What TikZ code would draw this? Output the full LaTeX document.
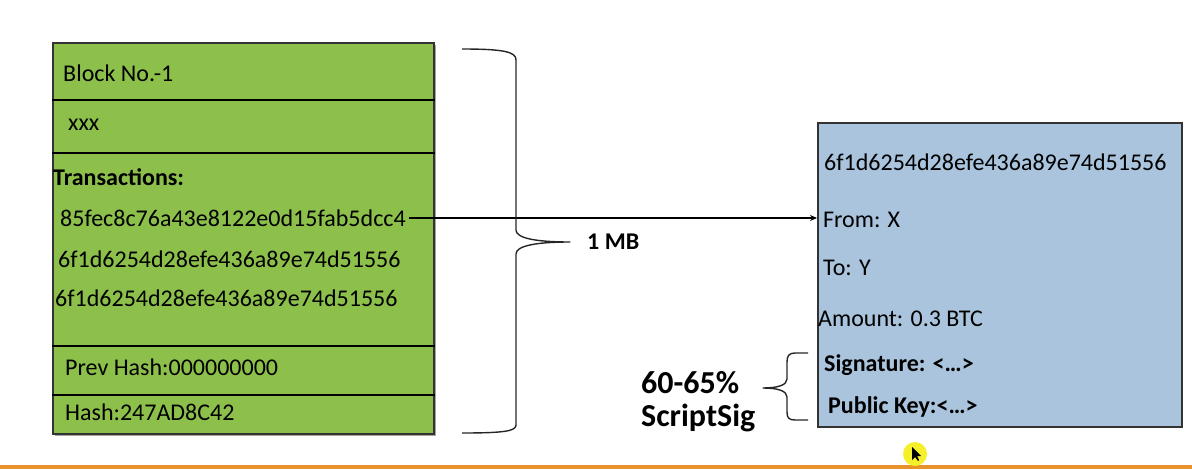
\documentclass[tikz,border=0pt]{standalone}
\usepackage{fontspec}
\setmainfont{Carlito}
\usetikzlibrary{arrows.meta}
\definecolor{blockgreen}{HTML}{8DC04B}
\definecolor{txblue}{HTML}{A9C4DC}
\definecolor{barorange}{HTML}{E8922B}
\definecolor{cursoryellow}{HTML}{F5F02A}
\tikzset{
  txt/.style={anchor=west, inner sep=0pt, font=\fontsize{24}{28}\selectfont},
  btxt/.style={txt, font=\fontsize{24}{28}\selectfont\bfseries},
  bigtxt/.style={anchor=west, inner sep=0pt, font=\fontsize{32}{36}\selectfont\bfseries},
  divider/.style={line width=2pt, black},
  boxline/.style={draw=black!80, line width=1.5pt},
  brace/.style={line width=1.4pt, black!85, line join=round},
}
\begin{document}
\begin{tikzpicture}[x=1pt,y=-1pt]
\useasboundingbox (0,0) rectangle (1192,469);
% left block
\fill[black!35] (55,45) rectangle (436,436);
\node[boxline, fill=blockgreen, anchor=north west, minimum width=381pt, minimum height=391pt, inner sep=0pt] (blk) at (52,42) {};
\draw[divider] (blk.west |- 0,100) -- (blk.east |- 0,100);
\draw[divider] (blk.west |- 0,153) -- (blk.east |- 0,153);
\draw[divider] (blk.west |- 0,346) -- (blk.east |- 0,346);
\draw[divider] (blk.west |- 0,395) -- (blk.east |- 0,395);
\node[txt] (bno) at (63,73) {Block No.-1};
\node[txt] (xxx) at (68,125) {xxx};
\node[btxt] (trs) at (53,177) {Transactions:};
\node[txt] (t1) at (60,218) {85fec8c76a43e8122e0d15fab5dcc4};
\node[txt] (t2) at (58,259) {6f1d6254d28efe436a89e74d51556};
\node[txt] (t3) at (55,298) {6f1d6254d28efe436a89e74d51556};
\node[txt] (prev) at (65,367) {Prev Hash:000000000};
\node[txt] (hash) at (65,412) {Hash:247AD8C42};
% right transaction box
\node[boxline, fill=txblue, anchor=north west, minimum width=364pt, minimum height=304pt, inner sep=0pt] (tx) at (817,122) {};
\node[txt] (rid) at (824,162) {6f1d6254d28efe436a89e74d51556};
\node[txt] (from) at (823,220) {From: X};
\node[txt] (to) at (823,268) {To: Y};
\node[txt] (amt) at (818,319) {Amount: 0.3 BTC};
\node[btxt] (sig) at (824,365) {Signature: <\dots>};
\node[btxt] (pk) at (828,407) {Public Key:<\dots>};
% arrow
\draw[line width=1.2pt, -{Stealth[length=7pt,width=6pt]}] ([xshift=3pt]t1.east) -- (t1.east -| tx.west);
% big brace
\draw[brace] (462,49) .. controls (505,49) and (516,52) .. (516,60) -- (516,230)
  .. controls (516,238) and (535,242) .. (570,242)
  .. controls (535,242) and (516,246) .. (516,254) -- (516,425)
  .. controls (516,431) and (505,433) .. (462,433);
\node[btxt] (mb) at (587,242) {1 MB};
% small brace
\draw[brace] (808,353) -- (795,353) .. controls (789,353) and (787,356) .. (787,362) -- (787,379)
  .. controls (787,385) and (778,388) .. (763,388)
  .. controls (778,388) and (787,391) .. (787,397) -- (787,412)
  .. controls (787,418) and (789,420) .. (795,420) -- (808,420);
\node[bigtxt] (pct) at (641,383) {60-65\%};
\node[bigtxt] (ssig) at (641,418) {ScriptSig};
% screen artefacts
\fill[barorange] (0,465) rectangle (1192,469);
\fill[cursoryellow] (915,454) circle (12);
\fill[black] (912,447) -- (912,460) -- (915,457) -- (918,461) -- (919,460) -- (917,456) -- (921,456) -- cycle;
\end{tikzpicture}
\end{document}
